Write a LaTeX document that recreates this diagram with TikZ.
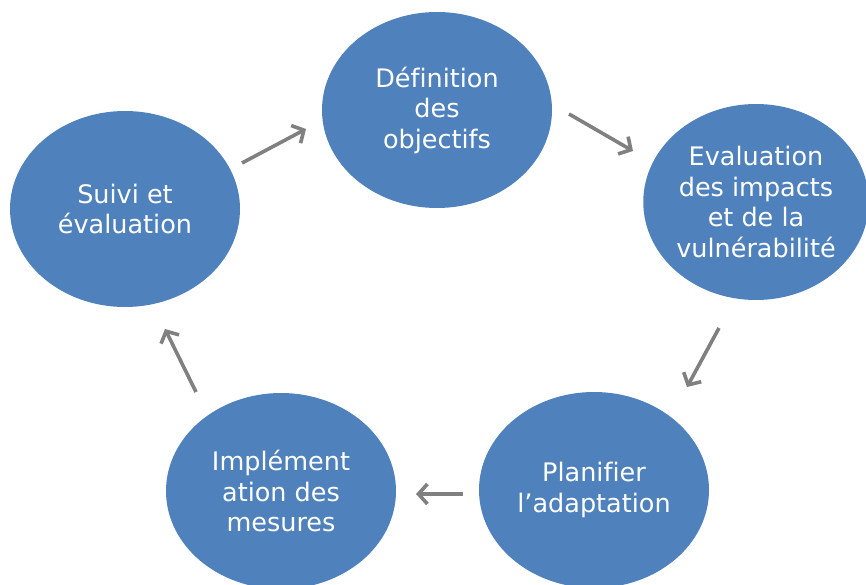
\documentclass[tikz,border=0pt]{standalone}
\usepackage{fontspec}
\setmainfont[Ligatures={NoCommon}]{DejaVu Sans}
\usetikzlibrary{arrows.meta,shapes.geometric}
\definecolor{stepblue}{RGB}{79,129,189}
\definecolor{arrgray}{RGB}{128,128,128}
\tikzset{
  stage/.style={ellipse, fill=stepblue, draw=none, inner sep=0pt,
    minimum width=230pt, minimum height=196pt, text=white, align=center,
    font=\fontsize{25.5}{30.5}\selectfont},
  cyc/.style={draw=arrgray, line width=3.6pt,
    -{Straight Barb[length=9pt,width=20pt]}}
}
\begin{document}
\begin{tikzpicture}[x=1pt,y=-1pt]
\useasboundingbox (0,0) rectangle (866,585);
\node[stage] (top) at (437,110) {Définition\\des\\objectifs};
\node[stage, minimum width=222pt] (right) at (756,202) {Evaluation\\des impacts\\et de la\\vulnérabilité};
\node[stage] (br) at (594,490) {Planifier\\l’adaptation};
\node[stage] (bl) at (281,491) {Implément\\ation des\\mesures};
\node[stage] (left) at (125,209) {Suivi et\\évaluation};
\coordinate (a1s) at (242,163); \coordinate (a1e) at (306,129);
\coordinate (a2s) at (569,114); \coordinate (a2e) at (633,151);
\coordinate (a3s) at (719,328); \coordinate (a3e) at (687,387);
\coordinate (a4s) at (463,494); \coordinate (a4e) at (416,494);
\coordinate (a5s) at (196,392); \coordinate (a5e) at (165,329);
\draw[cyc] (a1s) -- (a1e);
\draw[cyc] (a2s) -- (a2e);
\draw[cyc] (a3s) -- (a3e);
\draw[cyc] (a4s) -- (a4e);
\draw[cyc] (a5s) -- (a5e);
\end{tikzpicture}
\end{document}
